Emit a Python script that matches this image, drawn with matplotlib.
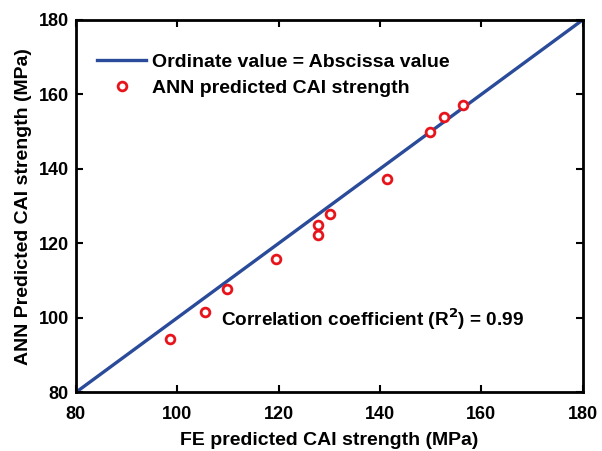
import numpy as np
import matplotlib.pyplot as plt

plt.rcParams['font.family'] = ['Liberation Sans', 'DejaVu Sans']
plt.rcParams['font.weight'] = 'bold'

# FE vs ANN predicted CAI strength (MPa)
fe_pred = [98.5, 105.5, 109.8, 119.4, 127.7, 127.7, 130.2, 141.3, 149.9, 152.7, 156.3]
ann_pred = [94.4, 101.6, 107.7, 115.8, 124.8, 122.3, 127.9, 137.2, 149.8, 153.9, 157.2]
ref_line = [80, 180]
r2 = 0.99

fig = plt.figure(figsize=(6.02, 4.51), dpi=100)
ax = fig.add_axes([0.126, 0.130, 0.842, 0.826])

ax.plot(ref_line, ref_line, color='#2a4a9a', lw=2.4, label='Ordinate value = Abscissa value')
ax.plot(fe_pred, ann_pred, 'o', ms=6.3, mfc='white', mec='#e8141c', mew=2,
        label='ANN predicted CAI strength')

ax.set_xlim(80, 180)
ax.set_ylim(80, 180)
ax.set_xticks(np.arange(80, 181, 20))
ax.set_yticks(np.arange(80, 181, 20))
ax.tick_params(direction='in', top=True, right=True, width=1.5, length=5,
               labelsize=13, pad=5)
ax.tick_params(axis='x', pad=10)
for s in ax.spines.values():
    s.set_linewidth(2)

ax.set_xlabel('FE predicted CAI strength (MPa)', fontsize=14, fontweight='bold', labelpad=6)
ax.set_ylabel('ANN Predicted CAI strength (MPa)', fontsize=14, fontweight='bold', labelpad=5)

ax.legend(loc='upper left', frameon=False, fontsize=14, handlelength=2.5,
          handletextpad=0.3, bbox_to_anchor=(0.004, 0.962), borderaxespad=0.6,
          labelspacing=0.42)

ax.text(0.286, 0.195, 'Correlation coefficient (R$^\\mathbf{2}$) = %.2f' % r2,
        transform=ax.transAxes, fontsize=13.7, fontweight='bold', va='center')

fig.savefig('out.png', dpi=100)
